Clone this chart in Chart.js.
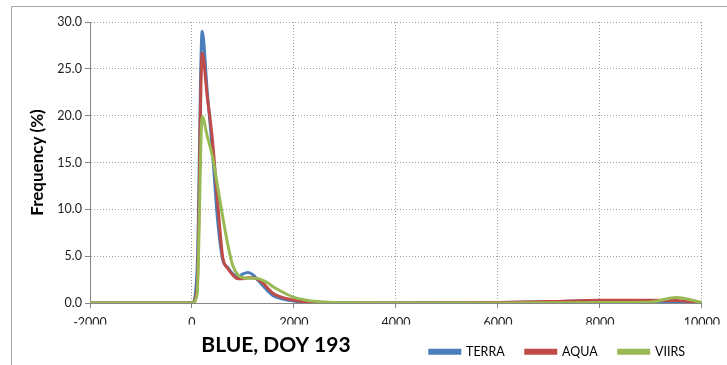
<!DOCTYPE html>
<html lang="en">
<head>
  <meta charset="UTF-8" />
  <title>BLUE, DOY 193</title>
  <script src="https://cdn.jsdelivr.net/npm/chart.js"></script>
  <style>
    body {
      margin: 0;
      background-color: #ffffff;
    }
    #chartContainer {
      width: 727px;
      height: 365px;
    }
  </style>
</head>
<body>
  <div id="chartContainer">
    <canvas id="freqChart"></canvas>
  </div>

  <script>
    // bin centres (reflectance * 10000)
    const bins = [-2000, -1500, -1000, -500, 0, 100, 200, 300, 400, 500, 600, 700, 800, 900,
      1000, 1100, 1200, 1300, 1400, 1500, 1600, 1800, 2000, 2200, 2400, 2600, 2800, 3000,
      4000, 5000, 6000, 7000, 8000, 8500, 9000, 9500, 10000];

    const terra = [0, 0, 0, 0, 0, 3.5, 29.0, 22.5, 16.3, 9.0, 4.7, 3.8, 3.1, 2.8,
      3.1, 3.25, 3.0, 2.4, 1.8, 1.2, 0.75, 0.4, 0.2, 0.1, 0.05, 0.02, 0, 0,
      0, 0.02, 0.05, 0.12, 0.25, 0.25, 0.2, 0.1, 0.05];

    const aqua = [0, 0, 0, 0, 0, 1.5, 26.7, 22.0, 17.5, 11.0, 5.0, 3.7, 3.0, 2.6,
      2.6, 2.7, 2.7, 2.5, 2.1, 1.5, 1.0, 0.55, 0.3, 0.15, 0.07, 0.03, 0.01, 0,
      0, 0.02, 0.05, 0.15, 0.3, 0.3, 0.3, 0.28, 0.05];

    const viirs = [0, 0, 0, 0, 0, 0.9, 19.9, 17.8, 15.7, 12.5, 9.3, 6.3, 4.0, 3.0,
      2.7, 2.65, 2.65, 2.6, 2.4, 2.1, 1.7, 1.1, 0.6, 0.35, 0.18, 0.1, 0.05, 0.02,
      0, 0, 0, 0.02, 0.05, 0.05, 0.1, 0.6, 0.05];

    const xTicks = [-2000, 0, 2000, 4000, 6000, 8000, 10000];
    const yTicks = [0, 5, 10, 15, 20, 25, 30];

    const toPoints = vals => bins.map((b, i) => ({ x: b, y: vals[i] }));

    const fontFamily = 'Lato, "Open Sans", sans-serif';
    const axisGrey = '#868686';
    const plotBottom = 303;
    const padBottom = -3;

    // frame + caption
    const extras = {
      id: 'extras',
      beforeDraw(chart) {
        const c = chart.ctx;
        c.save();
        c.fillStyle = '#ffffff';
        c.fillRect(0, 0, chart.width, chart.height);
        c.strokeStyle = '#a6a6a6';
        c.lineWidth = 1;
        c.beginPath();
        c.moveTo(11.5, chart.height);
        c.lineTo(11.5, 6.5);
        c.lineTo(chart.width, 6.5);
        c.stroke();
        c.restore();
      },
      afterDraw(chart) {
        const c = chart.ctx;
        c.save();
        c.font = 'bold 21px ' + fontFamily;
        c.fillStyle = '#000000';
        c.textAlign = 'center';
        c.textBaseline = 'middle';
        c.fillText('BLUE, DOY 193', 276, 345);
        c.restore();
      }
    };

    const gridOpts = {
      color: '#a0a0a0',
      tickBorderDash: [],
      tickColor: axisGrey,
      tickLength: 5
    };
    const borderOpts = { color: axisGrey, width: 1, dash: [1, 2] };

    const ctx = document.getElementById('freqChart').getContext('2d');
    const chart = new Chart(ctx, {
      type: 'line',
      data: {
        datasets: [
          { label: 'TERRA', data: toPoints(terra), borderColor: '#4a7ebb', backgroundColor: '#4a7ebb', order: 3 },
          { label: 'AQUA', data: toPoints(aqua), borderColor: '#be4b48', backgroundColor: '#be4b48', order: 2 },
          { label: 'VIIRS', data: toPoints(viirs), borderColor: '#98b954', backgroundColor: '#98b954', order: 1 }
        ]
      },
      options: {
        responsive: true,
        maintainAspectRatio: false,
        animation: false,
        layout: { padding: { left: 0, right: 21, top: 22, bottom: padBottom } },
        elements: {
          point: { radius: 0 },
          line: { borderWidth: 3, cubicInterpolationMode: 'monotone', fill: false }
        },
        scales: {
          x: {
            type: 'linear',
            min: -2000,
            max: 10000,
            afterBuildTicks: s => { s.ticks = xTicks.map(v => ({ value: v })); },
            afterFit: s => {
              const lh = s.chart.legend ? s.chart.legend.height : 30;
              s.height = s.chart.height - padBottom - lh - plotBottom;
            },
            ticks: {
              color: '#222',
              font: { family: fontFamily, size: 12.5 },
              padding: 7,
              callback: v => String(v)
            },
            grid: gridOpts,
            border: borderOpts
          },
          y: {
            min: 0,
            max: 30,
            afterBuildTicks: s => { s.ticks = yTicks.map(v => ({ value: v })); },
            afterFit: s => { s.width = 90; },
            ticks: {
              color: '#222',
              font: { family: fontFamily, size: 12.5 },
              padding: 3,
              callback: v => v.toFixed(1)
            },
            grid: gridOpts,
            border: borderOpts,
            title: {
              display: true,
              text: 'Frequency (%)',
              color: '#000',
              font: { family: fontFamily, size: 17, weight: 'bold' },
              padding: { top: 27, bottom: 0 }
            }
          }
        },
        plugins: {
          tooltip: { enabled: false },
          legend: {
            position: 'bottom',
            align: 'end',
            labels: {
              color: '#000',
              font: { family: fontFamily, size: 12.5 },
              boxWidth: 30,
              boxHeight: 3,
              padding: 21,
              sort: (a, b) => a.datasetIndex - b.datasetIndex
            }
          }
        }
      },
      plugins: [extras]
    });
  </script>
</body>
</html>
